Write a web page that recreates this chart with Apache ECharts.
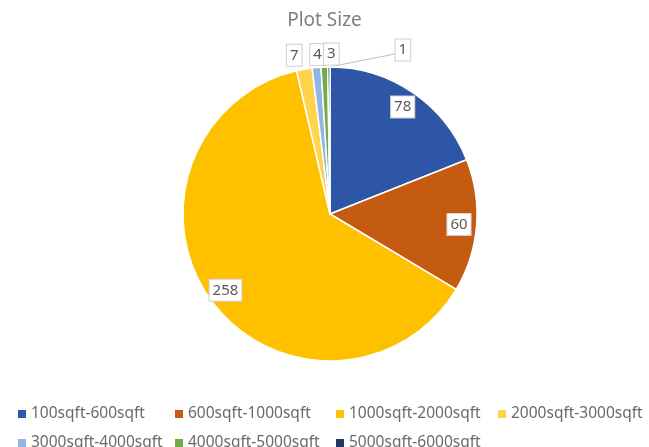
<!DOCTYPE html>
<html>
<head>
<meta charset="utf-8">
<title>Plot Size</title>
<script src="https://cdn.jsdelivr.net/npm/echarts@6/dist/echarts.min.js"></script>
<style>
  html, body { margin: 0; padding: 0; background: #ffffff; }
  #chart { width: 649px; height: 447px; }
</style>
</head>
<body>
<div id="chart"></div>
<script>
// Plot size ranges and how many plots fall in each
const categories = [
  '100sqft-600sqft',
  '600sqft-1000sqft',
  '1000sqft-2000sqft',
  '2000sqft-3000sqft',
  '3000sqft-4000sqft',
  '4000sqft-5000sqft',
  '5000sqft-6000sqft'
];
const plotCounts = [78, 60, 258, 7, 4, 3, 1];
const sliceColors = ['#2e56a6', '#c55a11', '#ffc000', '#ffd34a', '#8fb6e4', '#70ad47', '#203864'];

const FONT = '"Noto Sans", "Open Sans", sans-serif';
const CENTER = [330, 214];
const RADIUS = 147;
const total = plotCounts.reduce((a, b) => a + b, 0);

// point on the rim at the middle of slice i (pie starts at 12 o'clock, clockwise)
function rimPoint(i) {
  const before = plotCounts.slice(0, i).reduce((a, b) => a + b, 0);
  const ang = (before + plotCounts[i] / 2) / total * 2 * Math.PI;
  return [CENTER[0] + RADIUS * Math.sin(ang), CENTER[1] - RADIUS * Math.cos(ang)];
}
const isSmall = v => v / total < 0.05;

// where the thin slices' labels sit, relative to their rim point
const smallLabelOffsets = { 3: [-10, -14], 4: [1, -13], 5: [7, -13], 6: [74, -17] };

const boxLabel = {
  formatter: '{c}',
  color: '#595959',
  fontSize: 15,
  fontFamily: FONT,
  backgroundColor: '#ffffff',
  borderColor: '#d0d0d0',
  borderWidth: 1,
  padding: [3, 3, 2, 3],
  lineHeight: 16
};

const pieData = categories.map((name, i) => ({
  name: name,
  value: plotCounts[i],
  itemStyle: { color: sliceColors[i] },
  label: { show: isSmall(plotCounts[i]) },
  labelLine: { show: i === 6 }
}));

// transparent ring that carries the labels of the large slices near the rim
const ringData = categories.map((name, i) => ({
  name: name,
  value: plotCounts[i],
  label: { show: !isSmall(plotCounts[i]) }
}));

const legendBase = {
  orient: 'vertical',
  top: 401,
  height: 80,
  itemWidth: 8,
  itemHeight: 8,
  itemGap: 13,
  icon: 'rect',
  itemStyle: { borderWidth: 0 },
  textStyle: { color: '#6a6a6a', fontSize: 15.5, fontFamily: FONT, lineHeight: 15 }
};

const chart = echarts.init(document.getElementById('chart'), null, { renderer: 'canvas' });
chart.setOption({
  animation: false,
  backgroundColor: '#ffffff',
  title: {
    text: 'Plot Size',
    left: 'center',
    top: 6,
    textStyle: { color: '#7f7f7f', fontSize: 19, fontWeight: 'normal', fontFamily: FONT }
  },
  legend: [
    Object.assign({}, legendBase, { left: 13, data: [categories[0], categories[4]] }),
    Object.assign({}, legendBase, { left: 170, data: [categories[1], categories[5]] }),
    Object.assign({}, legendBase, { left: 331, data: [categories[2], categories[6]] }),
    Object.assign({}, legendBase, { left: 493, data: [categories[3]] })
  ],
  series: [
    {
      type: 'pie',
      center: CENTER,
      radius: RADIUS,
      startAngle: 90,
      clockwise: true,
      avoidLabelOverlap: false,
      silent: true,
      itemStyle: { borderColor: '#ffffff', borderWidth: 1.5 },
      label: Object.assign({ position: 'outside' }, boxLabel),
      labelLine: { length: 5, length2: 5, lineStyle: { color: '#bfbfbf', width: 1 } },
      labelLayout: function (params) {
        const off = smallLabelOffsets[params.dataIndex];
        if (!off) return {};
        const p = rimPoint(params.dataIndex);
        const x = p[0] + off[0];
        const y = p[1] + off[1];
        const out = { x: x, y: y, align: 'center', verticalAlign: 'middle' };
        if (params.dataIndex === 6) {
          const end = [x - params.labelRect.width / 2, y + 4];
          out.labelLinePoints = [p, end, end];
        }
        return out;
      },
      data: pieData
    },
    {
      type: 'pie',
      center: CENTER,
      radius: [RADIUS * 0.72, RADIUS],
      startAngle: 90,
      clockwise: true,
      avoidLabelOverlap: false,
      silent: true,
      z: 3,
      itemStyle: { color: 'rgba(0,0,0,0)', borderWidth: 0 },
      label: Object.assign({ position: 'inside' }, boxLabel),
      labelLine: { show: false },
      data: ringData
    }
  ]
});
</script>
</body>
</html>
